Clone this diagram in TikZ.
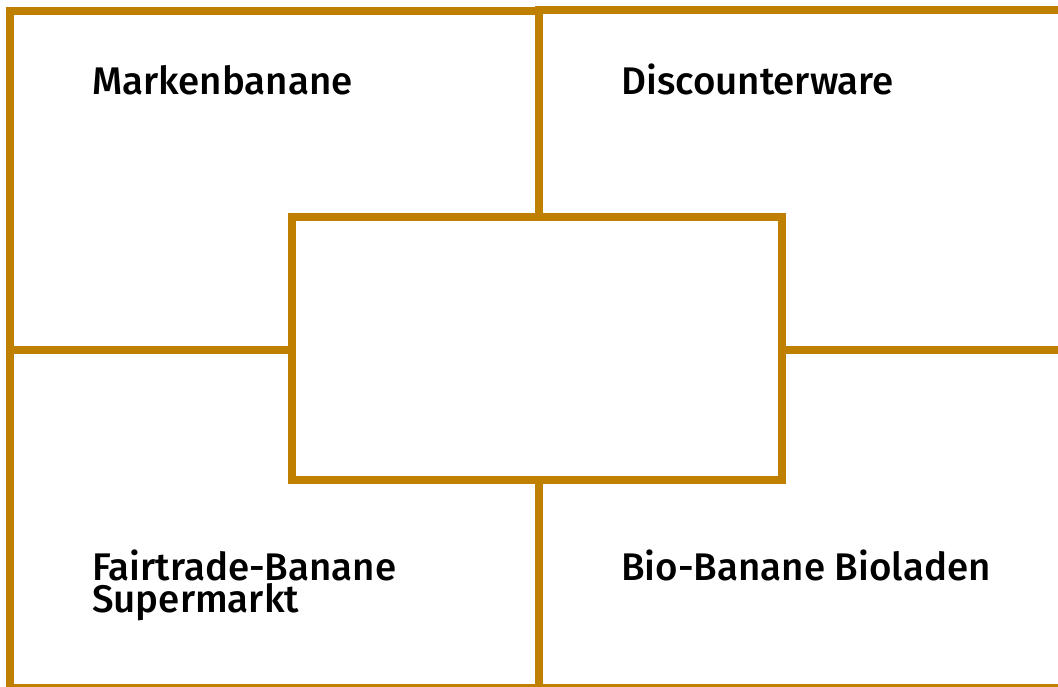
\documentclass[tikz,border=0pt]{standalone}
\usepackage{fontspec}
\newfontfamily\lblfont{Fira Sans}[UprightFont=* Medium]
\definecolor{gold}{RGB}{191,127,0}
\tikzset{
  quad/.style={draw=gold, line width=8pt, rectangle, inner sep=0pt, outer sep=0pt},
  lbl/.style={anchor=base west, inner sep=0pt, font=\lblfont\fontsize{38.5}{32}\selectfont, align=left, text=black}
}
\begin{document}
\begin{tikzpicture}[x=1pt,y=-1pt]
\useasboundingbox (0,0) rectangle (1058,686);
\node[quad, minimum width=528.5pt, minimum height=338.5pt] (tl) at (274.25,180.25) {};
\node[quad, minimum width=531.5pt, minimum height=339.5pt] (tr) at (804.25,179.75) {};
\node[quad, minimum width=528.5pt, minimum height=338.5pt] (bl) at (274.25,518.75) {};
\node[quad, minimum width=531.5pt, minimum height=338.5pt] (br) at (804.25,518.75) {};
\node[quad, fill=white, minimum width=490pt, minimum height=263pt] (c) at (537,348) {};
\node[lbl] (t1) at (92,94) {Markenbanane};
\node[lbl] (t2) at (621,94) {Discounterware};
\node[lbl] (t3) at (92,612) {Fairtrade-Banane\\Supermarkt};
\node[lbl] (t4) at (621,580) {Bio-Banane Bioladen};
\end{tikzpicture}
\end{document}
